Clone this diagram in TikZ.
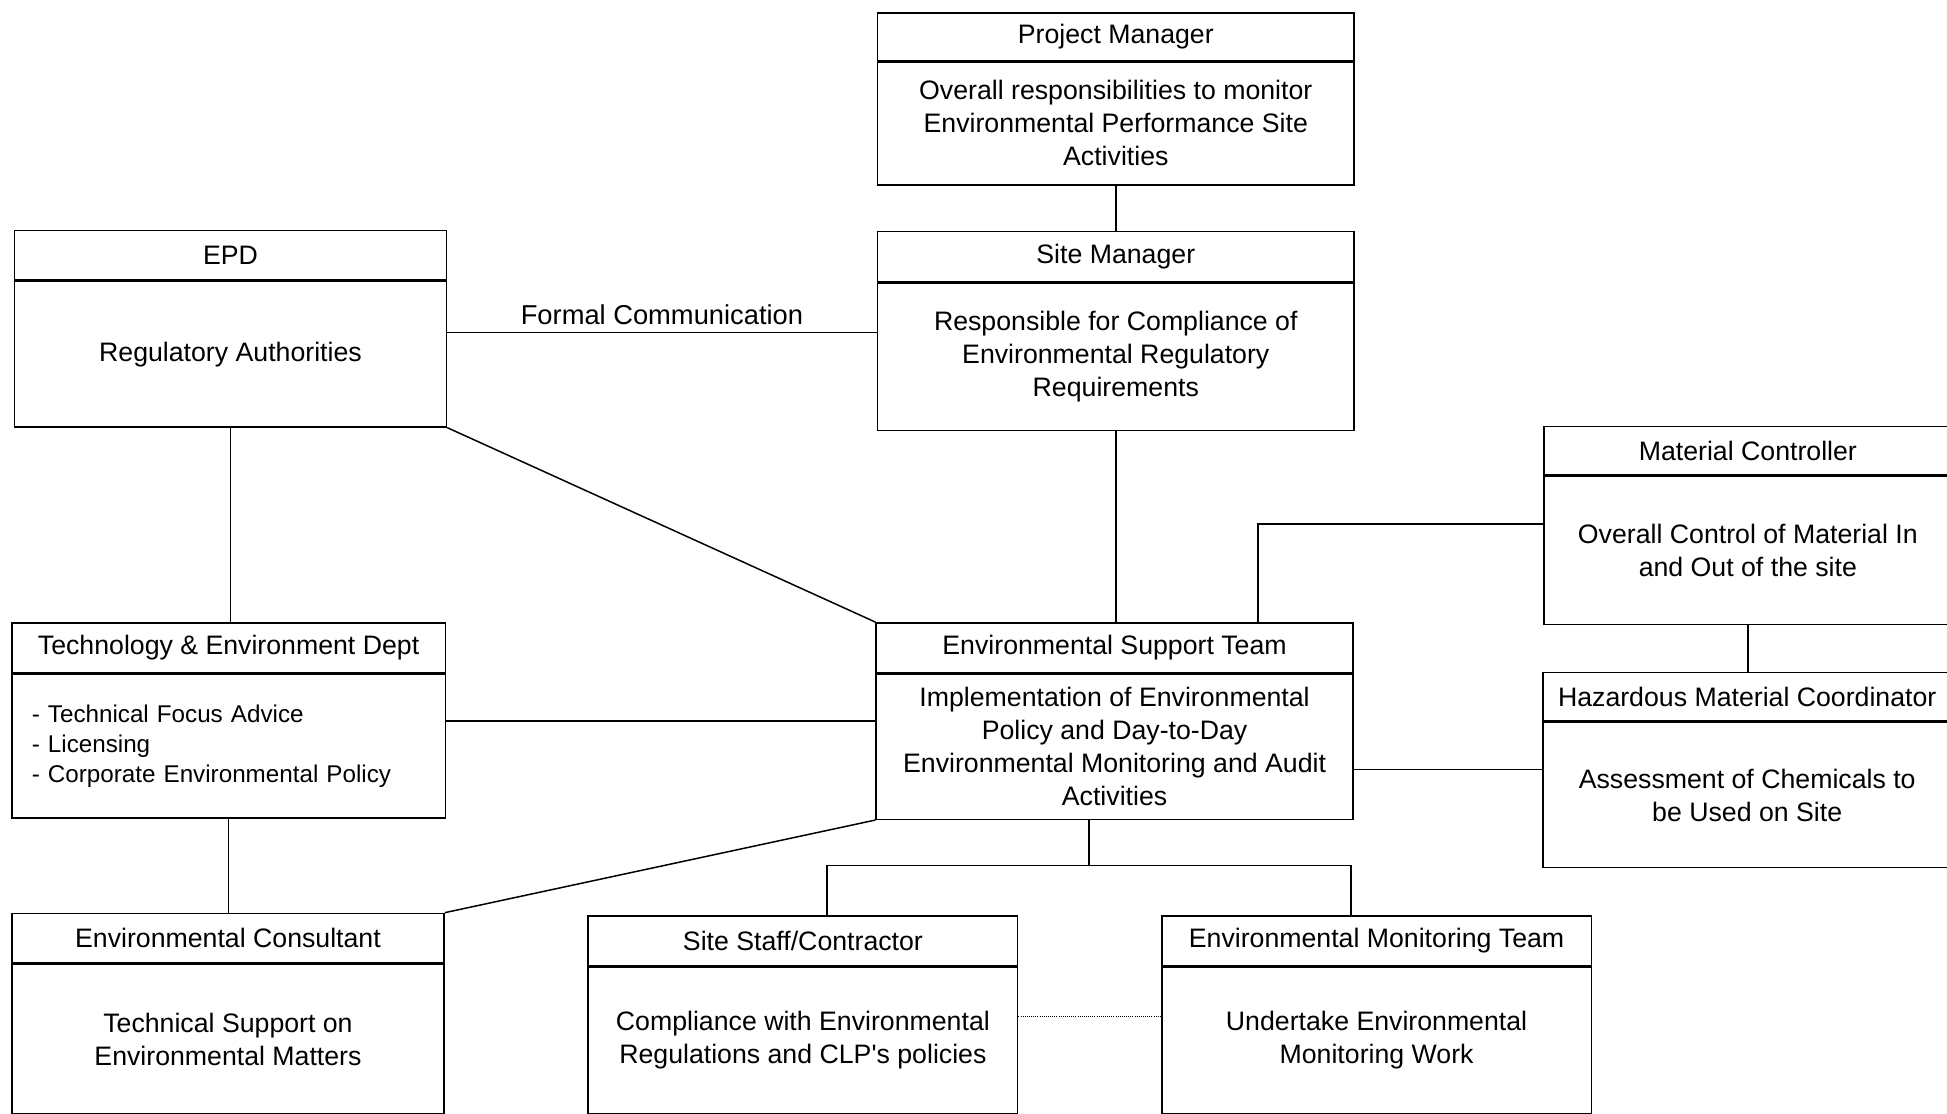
\documentclass[tikz,border=0pt]{standalone}
\usepackage{fontspec}
\setmainfont{Liberation Sans}
\usetikzlibrary{calc}

\begin{document}
\begin{tikzpicture}%
        [x=1pt,
        y=-1pt,
        head/.style={draw=black, line width=1.2pt, anchor=north west, inner sep=0pt, font=\fontsize{21.5}{26.5}\selectfont},
        body/.style={draw=black, line width=1.2pt, anchor=north, inner sep=0pt, align=center, font=\fontsize{21.5}{26.5}\selectfont},
        listbody/.style={draw=black, line width=1.2pt, anchor=north, inner xsep=16pt, inner ysep=0pt, align=left, font=\fontsize{19.5}{24}\selectfont},
        link/.style={color=black, line width=1.2pt},
        dots/.style={color=black, line width=0.7pt, densely dotted},
        tag/.style={font=\fontsize{22}{26}\selectfont, inner sep=6pt}]
%
\useasboundingbox (0,0) rectangle (1568,897);
%
%% Coordinate of the boxes:
%%
\coordinate (pm) at (706,10);
\coordinate (sm) at (706,186);
\coordinate (epd) at (11,185);
\coordinate (ted) at (9,501);
\coordinate (est) at (705,501);
\coordinate (mc) at (1243,343);
\coordinate (hmc) at (1242,541);
\coordinate (ec) at (9,735);
\coordinate (ssc) at (473,737);
\coordinate (emt) at (935,737);
%%
%% Coordinate of the bends:
%%
\coordinate (branch) at (877,697);
\coordinate (dropL) at (666,697);
\coordinate (dropR) at (1088,697);
\coordinate (mcTurn) at (1013,422);
%%
%%
%% Drawing the boxes
%%
\node[head, minimum width=384pt, minimum height=38pt] (pmHead) at (pm) {Project Manager};
\node[body, minimum width=384pt, minimum height=99pt] (pmBody) at (pmHead.south) {Overall responsibilities to monitor\\Environmental Performance Site\\Activities};

\node[head, minimum width=384pt, minimum height=40pt] (smHead) at (sm) {Site Manager};
\node[body, minimum width=384pt, minimum height=119pt] (smBody) at (smHead.south) {Responsible for Compliance of\\Environmental Regulatory\\Requirements};

\node[head, minimum width=348pt, minimum height=40pt] (epdHead) at (epd) {EPD};
\node[body, minimum width=348pt, minimum height=117pt] (epdBody) at (epdHead.south) {Regulatory Authorities};

\node[head, minimum width=349pt, minimum height=40pt] (tedHead) at (ted) {Technology \& Environment Dept};
\node[listbody, text width=317pt, minimum height=116pt] (tedBody) at (tedHead.south) {- Technical Focus Advice\\- Licensing\\- Corporate Environmental Policy};

\node[head, minimum width=384pt, minimum height=40pt] (estHead) at (est) {Environmental Support Team};
\node[body, minimum width=384pt, minimum height=117pt] (estBody) at (estHead.south) {Implementation of Environmental\\Policy and Day-to-Day\\Environmental Monitoring and Audit\\Activities};

\node[head, minimum width=328pt, minimum height=39pt] (mcHead) at (mc) {Material Controller};
\node[body, minimum width=328pt, minimum height=119pt] (mcBody) at (mcHead.south) {Overall Control of Material In\\and Out of the site};

\node[head, minimum width=329pt, minimum height=39pt] (hmcHead) at (hmc) {Hazardous Material Coordinator};
\node[body, minimum width=329pt, minimum height=117pt] (hmcBody) at (hmcHead.south) {Assessment of Chemicals to\\be Used on Site};

\node[head, minimum width=348pt, minimum height=40pt] (ecHead) at (ec) {Environmental Consultant};
\node[body, minimum width=348pt, minimum height=120pt] (ecBody) at (ecHead.south) {Technical Support on\\Environmental Matters};

\node[head, minimum width=346pt, minimum height=40pt] (sscHead) at (ssc) {Site Staff/Contractor};
\node[body, minimum width=346pt, minimum height=118pt] (sscBody) at (sscHead.south) {Compliance with Environmental\\Regulations and CLP\textquotesingle s policies};

\node[head, minimum width=346pt, minimum height=40pt] (emtHead) at (emt) {Environmental Monitoring Team};
\node[body, minimum width=346pt, minimum height=118pt] (emtBody) at (emtHead.south) {Undertake Environmental\\Monitoring Work};
%%
%%
%% Drawing the connectors
%%
\coordinate (fc) at ([yshift=17.5pt]epdBody.east);
\coordinate (te) at ([yshift=20pt]tedBody.east);
\coordinate (eh) at ([yshift=-18.5pt]estBody.east);
\coordinate (sd) at ([yshift=19pt]sscBody.east);

\draw[link] (pmBody.south) -- (smHead.north);
\draw[link] (smBody.south) -- (smBody.south |- estHead.north);
\draw[link] (fc) -- (fc -| smBody.west) node[midway, above, tag] {Formal Communication};
\draw[link] (epdBody.south) -- (epdBody.south |- tedHead.north);
\draw[link] (epdBody.south east) -- (estHead.north west);
\draw[link] (te) -- (te -| estBody.west);
\draw[link] (tedBody.south) -- (tedBody.south |- ecHead.north);
\draw[link] (ecHead.north east) -- (estBody.south west);
\draw[link] (branch |- estBody.south) -- (branch);
\draw[link] (dropL |- sscHead.north) -- (dropL) -- (dropR) -- (dropR |- emtHead.north);
\draw[link] (mcTurn |- estHead.north) -- (mcTurn) -- (mcTurn -| mcBody.west);
\draw[link] (mcBody.south) -- (mcBody.south |- hmcHead.north);
\draw[link] (eh) -- (eh -| hmcBody.west);
\draw[dots] (sd) -- (sd -| emtBody.west);

\end{tikzpicture}
\end{document}
